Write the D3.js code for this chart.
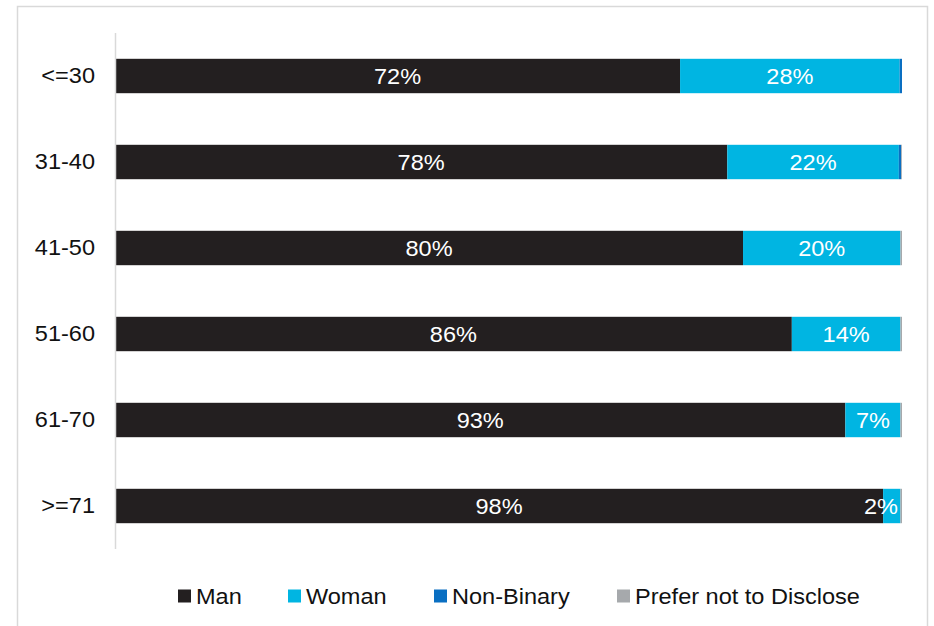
<!DOCTYPE html>
<html>
<head>
<meta charset="utf-8">
<script src="https://cdn.jsdelivr.net/npm/d3@7"></script>
<style>
  html, body { margin: 0; padding: 0; background: #fff; }
  svg { display: block; font-family: "Liberation Sans", Arial, sans-serif; }
</style>
</head>
<body>
<svg id="chart" width="934" height="626"></svg>
<script>
// Age bands (top to bottom)
const categories = ["<=30", "31-40", "41-50", "51-60", "61-70", ">=71"];

// Share of respondents (%) per gender within each age band
const man        = [71.8, 77.8, 79.8, 86.0, 92.8, 97.6];
const woman      = [27.9, 21.8, 20.0, 13.8,  7.0,  2.2];
const nonBinary  = [ 0.3,  0.3,  0.0,  0.0,  0.0,  0.0];
const preferNot  = [ 0.0,  0.1,  0.2,  0.2,  0.2,  0.2];

const seriesNames  = ["Man", "Woman", "Non-Binary", "Prefer not to Disclose"];
const seriesValues = [man, woman, nonBinary, preferNot];
const seriesColors = ["#231f20", "#00b5e2", "#0a6fc2", "#a6a9ac"];
const labelledSeries = ["Man", "Woman"];

const svg = d3.select("#chart");
const W = 934, H = 626;
const FS = 22;      // text size
const SX = 1.07;    // slight horizontal widening of text

// outer frame
svg.append("path")
  .attr("d", `M17.5,${H} V6.5 H927.5 V${H}`)
  .attr("fill", "none")
  .attr("stroke", "#d9d9d9")
  .attr("stroke-width", 1.5);

const plot = { left: 115, right: 902, top: 33, bottom: 549 };

const rows = categories.map((c, i) => {
  const r = { cat: c };
  seriesNames.forEach((s, j) => r[s] = seriesValues[j][i]);
  return r;
});

const stack = d3.stack().keys(seriesNames)(rows);

const x = d3.scaleLinear().domain([0, 100]).range([plot.left, plot.right]);
const y = d3.scaleBand().domain(categories).range([plot.top, plot.bottom]).paddingInner(0.6).paddingOuter(0.3);

const color = d3.scaleOrdinal().domain(seriesNames).range(seriesColors);

// bars
const layers = svg.append("g").selectAll("g")
  .data(stack).join("g")
  .attr("fill", d => color(d.key));

layers.selectAll("rect")
  .data(d => d)
  .join("rect")
  .attr("x", d => x(d[0]))
  .attr("y", d => y(d.data.cat))
  .attr("width", d => Math.max(0, x(d[1]) - x(d[0])))
  .attr("height", y.bandwidth());

// value labels
const fmt = v => d3.format(".0f")(v) + "%";
stack.filter(s => labelledSeries.includes(s.key)).forEach(s => {
  svg.append("g").selectAll("text")
    .data(s).join("text")
    .attr("transform", d => {
      const cx = Math.min((x(d[0]) + x(d[1])) / 2, plot.right - 21);
      const cy = y(d.data.cat) + y.bandwidth() / 2;
      return `translate(${cx},${cy}) scale(${SX},1)`;
    })
    .attr("dy", "0.36em")
    .attr("text-anchor", "middle")
    .attr("fill", "#fff")
    .attr("font-size", FS)
    .text(d => fmt(d[1] - d[0]));
});

// category axis
const yAxis = svg.append("g")
  .attr("transform", `translate(${plot.left},0)`)
  .call(d3.axisLeft(y).tickSize(0).tickPadding(20));
yAxis.select(".domain").attr("stroke", "#d9d9d9").attr("stroke-width", 1.5)
  .attr("d", `M0.5,${plot.top}V${plot.bottom}`);
yAxis.selectAll(".tick text")
  .attr("x", -20 / SX)
  .attr("transform", `scale(${SX},1)`)
  .attr("font-size", FS)
  .attr("font-family", "Liberation Sans, Arial, sans-serif")
  .attr("fill", "#111");

// legend
const legendX = [178, 288, 434, 617];
const legend = svg.append("g");
seriesNames.forEach((s, i) => {
  const g = legend.append("g").attr("transform", `translate(${legendX[i]},596)`);
  g.append("rect").attr("x", 0).attr("y", -6.5).attr("width", 13).attr("height", 13).attr("fill", color(s));
  g.append("text")
    .attr("transform", `translate(18,0) scale(${SX},1)`)
    .attr("dy", "0.36em")
    .attr("font-size", FS).attr("fill", "#111").text(s);
});
</script>
</body>
</html>
